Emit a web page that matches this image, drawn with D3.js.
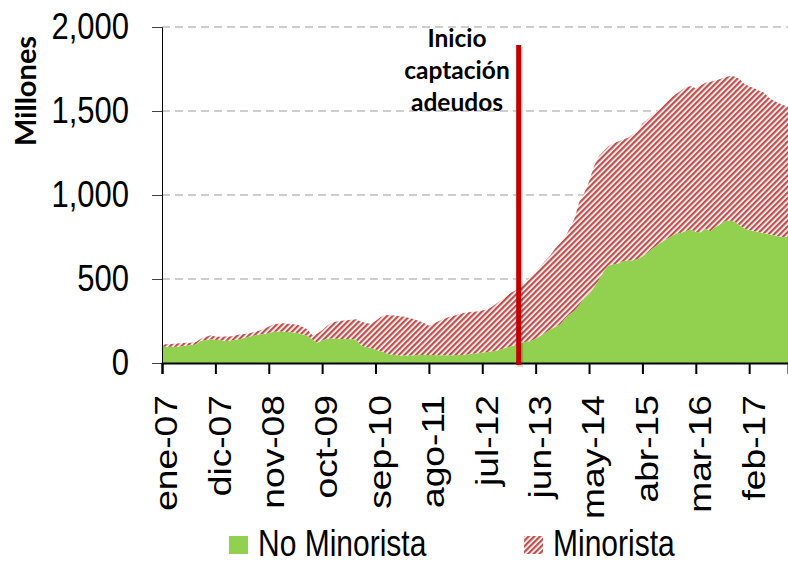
<!doctype html>
<html lang="es">
<head>
<meta charset="UTF-8">
<title>Adeudos - Minorista / No Minorista</title>
<style>
  body { margin: 0; background: #ffffff; }
  svg { display: block; }
  .grid line { stroke: #bfbfbf; stroke-width: 1.5; stroke-dasharray: 8,5; }
  .tick-label { font-family: "Liberation Sans", Arial, sans-serif; fill: #000; }
  .bold-label { font-family: Lato, "Open Sans", sans-serif; font-weight: bold; fill: #000; }
</style>
</head>
<body>
<svg id="chart" width="788" height="561"></svg>
<script src="https://cdn.jsdelivr.net/npm/d3@7"></script>
<script>
// meses ene-07 .. oct-17
var monthNames = ["ene","feb","mar","abr","may","jun","jul","ago","sep","oct","nov","dic"];
var nMonths = 130;

// Millones
var noMinorista = [
  97, 96, 95, 96, 99, 104, 107, 110, 132, 136, 142, 138,
  135, 132, 133, 138, 142, 150, 157, 163, 169, 173, 178, 186,
  188, 186, 184, 181, 178, 170, 160, 140, 121, 135, 143, 146,
  145, 143, 143, 142, 140, 105, 95, 88, 80, 70, 60, 52,
  47, 45, 44, 45, 46, 47, 48, 48, 47, 46, 46, 46,
  46, 47, 48, 50, 55, 58, 62, 65, 70, 75, 82, 92,
  100, 107, 117, 127, 131, 145, 162, 180, 200, 215, 228, 262,
  290, 310, 345, 385, 410, 450, 494, 545, 580, 586, 592, 605,
  610, 612, 617, 635, 655, 680, 700, 720, 738, 755, 772, 775,
  785, 796, 780, 778, 800, 784, 810, 825, 845, 848, 843, 820,
  800, 792, 785, 778, 774, 768, 760, 754, 750, 748
];
var minorista = [
  14, 16, 18, 20, 19, 16, 14, 15, 13, 19, 23, 20,
  21, 25, 24, 25, 27, 23, 20, 22, 23, 31, 38, 44,
  46, 50, 49, 49, 49, 45, 40, 25, 54, 60, 79, 94,
  102, 108, 112, 116, 120, 142, 143, 145, 170, 202, 225, 232,
  235, 234, 232, 223, 214, 203, 190, 174, 188, 202, 216, 226,
  234, 241, 248, 252, 250, 248, 250, 253, 265, 280, 293, 308,
  320, 328, 343, 357, 384, 400, 413, 430, 440, 465, 484, 483,
  510, 550, 615, 625, 670, 720, 736, 717, 710, 722, 726, 727,
  730, 748, 760, 790, 795, 795, 800, 802, 817, 827, 830, 847,
  860, 852, 856, 874, 868, 890, 870, 865, 855, 860, 863, 870,
  862, 856, 850, 844, 836, 812, 802, 794, 786, 778
];

var tickLabels = ["ene-07","dic-07","nov-08","oct-09","sep-10","ago-11",
                  "jul-12","jun-13","may-14","abr-15","mar-16","feb-17"];
var yTicks = [0, 500, 1000, 1500, 2000];
var seriesNames = ["No Minorista", "Minorista"];
var annotationMonths = ["feb-13", "mar-13"]; // la linea cae entre estos dos meses
var annotationText = ["Inicio", "captación", "adeudos"];

var categories = [];
for (var i = 0; i < nMonths; i++) {
  var yy = 7 + Math.floor(i / 12);
  categories.push(monthNames[i % 12] + "-" + (yy < 10 ? "0" + yy : "" + yy));
}

var rows = categories.map(function(m, i) {
  return { mes: m, noMinorista: noMinorista[i], minorista: minorista[i] };
});

var svg = d3.select("#chart");
var plotLeft = 162, plotRight = 788, plotTop = 27, plotBottom = 363;
var stretch = 1.2;

var x = d3.scalePoint().domain(categories).range([plotLeft, plotRight]).padding(0);
var y = d3.scaleLinear().domain([0, 2000]).range([plotBottom, plotTop]);

// patron rayado
var defs = svg.append("defs");
var pat = defs.append("pattern")
  .attr("id", "hatch")
  .attr("patternUnits", "userSpaceOnUse")
  .attr("width", 4).attr("height", 4)
  .attr("patternTransform", "rotate(45)");
pat.append("rect").attr("width", 4).attr("height", 4).attr("fill", "#ffffff");
pat.append("rect").attr("width", 2.3).attr("height", 4).attr("fill", "#c0504d");

// grid
svg.append("g").attr("class", "grid")
  .selectAll("line")
  .data(yTicks.filter(function(d) { return d > 0; }))
  .enter().append("line")
  .attr("x1", plotLeft).attr("x2", plotRight)
  .attr("y1", function(d) { return y(d); })
  .attr("y2", function(d) { return y(d); });

// areas apiladas
var stack = d3.stack().keys(["noMinorista", "minorista"]);
var layers = stack(rows);
var area = d3.area()
  .x(function(d) { return x(d.data.mes); })
  .y0(function(d) { return y(d[0]); })
  .y1(function(d) { return y(d[1]); });

svg.selectAll(".layer")
  .data(layers)
  .enter().append("path")
  .attr("class", "layer")
  .attr("d", area)
  .attr("fill", function(d, i) { return i === 0 ? "#92d050" : "url(#hatch)"; });

// eje y
var yAxis = svg.append("g")
  .attr("transform", "translate(" + plotLeft + ",0)")
  .call(d3.axisLeft(y).tickValues(yTicks).tickFormat(d3.format(",")).tickSize(10).tickPadding(23));
yAxis.attr("font-family", null).attr("font-size", null);
yAxis.select(".domain").attr("stroke", "#000").attr("stroke-width", 1);
yAxis.selectAll(".tick line").attr("stroke", "#404040").attr("stroke-width", 1);
yAxis.selectAll(".tick text")
  .attr("class", "tick-label")
  .style("font-size", "31px")
  .attr("transform", "scale(1," + stretch + ")");

// eje x
var xAxis = svg.append("g")
  .attr("transform", "translate(0," + plotBottom + ")")
  .call(d3.axisBottom(x).tickValues(tickLabels).tickSize(11).tickFormat(""));
xAxis.attr("font-family", null).attr("font-size", null);
xAxis.select(".domain").attr("stroke", "#000").attr("stroke-width", 2);
xAxis.selectAll(".tick line").attr("stroke", "#000").attr("stroke-width", 2);
xAxis.selectAll(".tick").append("text")
  .attr("class", "tick-label")
  .style("font-size", "31px")
  .attr("text-anchor", "end")
  .attr("dy", "0.35em")
  .attr("transform", "translate(4,32) rotate(-90) scale(" + stretch + ",1)")
  .text(function(d) { return d; });

// linea vertical de anotacion
var xLine = (x(annotationMonths[0]) + x(annotationMonths[1])) / 2;
svg.append("line")
  .attr("x1", xLine + 1.5).attr("x2", xLine + 1.5)
  .attr("y1", 47).attr("y2", 367)
  .attr("stroke", "#000").attr("stroke-opacity", 0.15)
  .attr("stroke-width", 6);
svg.append("line")
  .attr("x1", xLine).attr("x2", xLine)
  .attr("y1", 45).attr("y2", 365)
  .attr("stroke", "#c00000")
  .attr("stroke-width", 5);

svg.append("g").selectAll("text")
  .data(annotationText)
  .enter().append("text")
  .attr("class", "bold-label")
  .attr("x", 457)
  .attr("y", function(d, i) { return 47 + i * 32; })
  .attr("text-anchor", "middle")
  .style("font-size", "24.5px")
  .text(function(d) { return d; });

// titulo eje y
svg.append("text")
  .attr("class", "bold-label")
  .attr("transform", "translate(36,91) rotate(-90)")
  .attr("text-anchor", "middle")
  .style("font-size", "29px")
  .text("Millones");

// leyenda
var legend = svg.append("g");
var legendX = [229, 524];
seriesNames.forEach(function(name, i) {
  legend.append("rect")
    .attr("x", legendX[i]).attr("y", 536)
    .attr("width", 19).attr("height", 18)
    .attr("fill", i === 0 ? "#92d050" : "url(#hatch)");
  legend.append("text")
    .attr("class", "tick-label")
    .attr("transform", "translate(" + (legendX[i] + 29) + ",556) scale(1," + stretch + ")")
    .style("font-size", "30px")
    .text(name);
});
</script>
</body>
</html>
